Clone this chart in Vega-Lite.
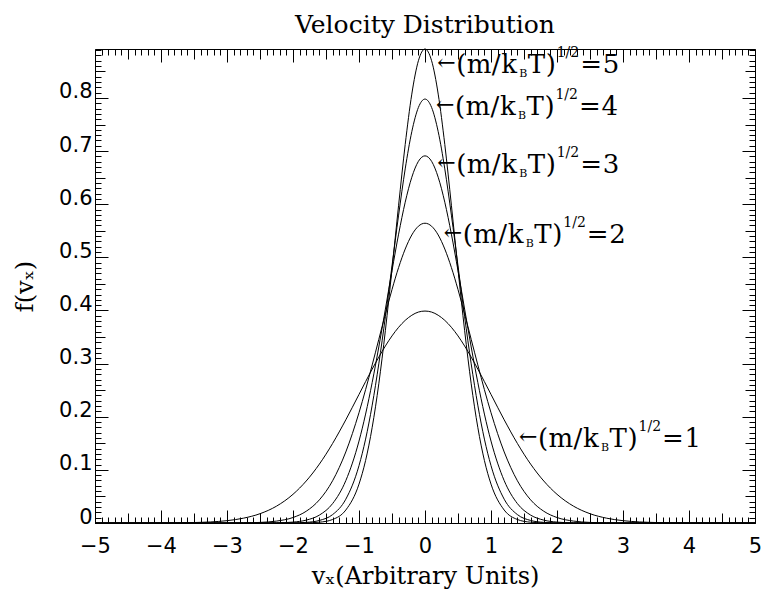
{
  "$schema": "https://vega.github.io/schema/vega-lite/v6.json",
  "width": 660,
  "height": 474,
  "autosize": {"type": "none"},
  "padding": {"left": 95, "top": 49, "right": 7, "bottom": 69},
  "background": "white",
  "config": {
    "view": {"stroke": "black", "strokeWidth": 1},
    "axis": {"domain": false, "grid": false, "tickColor": "black", "tickWidth": 1, "labelColor": "black", "titleColor": "black"}
  },
  "title": {"text": "Velocity Distribution", "font": "DejaVu Serif", "fontSize": 25, "fontWeight": "normal", "anchor": "middle", "baseline": "alphabetic", "offset": 10, "dy": 22, "color": "black"},
  "datasets": {
    "curves": [
      {"v": -5, "a1": 0, "a2": 0, "a3": 0, "a4": 0, "a5": 0},
      {"v": -4.5, "a1": 0, "a2": 0, "a3": 0, "a4": 0, "a5": 0},
      {"v": -4, "a1": 0.0001, "a2": 0, "a3": 0, "a4": 0, "a5": 0},
      {"v": -3.5, "a1": 0.0009, "a2": 0, "a3": 0, "a4": 0, "a5": 0},
      {"v": -3, "a1": 0.0044, "a2": 0.0001, "a3": 0, "a4": 0, "a5": 0},
      {"v": -2.75, "a1": 0.0091, "a2": 0.0003, "a3": 0, "a4": 0, "a5": 0},
      {"v": -2.5, "a1": 0.0175, "a2": 0.0011, "a3": 0.0001, "a4": 0, "a5": 0},
      {"v": -2.25, "a1": 0.0317, "a2": 0.0036, "a3": 0.0003, "a4": 0, "a5": 0},
      {"v": -2, "a1": 0.054, "a2": 0.0103, "a3": 0.0017, "a4": 0.0003, "a5": 0},
      {"v": -1.8, "a1": 0.079, "a2": 0.0221, "a3": 0.0054, "a4": 0.0012, "a5": 0.0003},
      {"v": -1.6, "a1": 0.1109, "a2": 0.0436, "a3": 0.0149, "a4": 0.0048, "a5": 0.0015},
      {"v": -1.4, "a1": 0.1497, "a2": 0.0795, "a3": 0.0365, "a4": 0.0158, "a5": 0.0066},
      {"v": -1.2, "a1": 0.1942, "a2": 0.1337, "a3": 0.0797, "a4": 0.0448, "a5": 0.0244},
      {"v": -1, "a1": 0.242, "a2": 0.2076, "a3": 0.1542, "a4": 0.108, "a5": 0.0732},
      {"v": -0.9, "a1": 0.2661, "a2": 0.251, "a3": 0.205, "a4": 0.1579, "a5": 0.1177},
      {"v": -0.8, "a1": 0.2897, "a2": 0.2975, "a3": 0.2646, "a4": 0.2218, "a5": 0.1801},
      {"v": -0.7, "a1": 0.3122, "a2": 0.3456, "a3": 0.3313, "a4": 0.2995, "a5": 0.262},
      {"v": -0.6, "a1": 0.3332, "a2": 0.3936, "a3": 0.4027, "a4": 0.3884, "a5": 0.3627},
      {"v": -0.5, "a1": 0.3521, "a2": 0.4394, "a3": 0.4749, "a4": 0.4839, "a5": 0.4775},
      {"v": -0.4, "a1": 0.3683, "a2": 0.4808, "a3": 0.5436, "a4": 0.5794, "a5": 0.598},
      {"v": -0.3, "a1": 0.3814, "a2": 0.5156, "a3": 0.6037, "a4": 0.6664, "a5": 0.7123},
      {"v": -0.2, "a1": 0.391, "a2": 0.5421, "a3": 0.6507, "a4": 0.7365, "a5": 0.8072},
      {"v": -0.1, "a1": 0.397, "a2": 0.5586, "a3": 0.6807, "a4": 0.7821, "a5": 0.87},
      {"v": 0, "a1": 0.3989, "a2": 0.5642, "a3": 0.691, "a4": 0.7979, "a5": 0.8921},
      {"v": 0.1, "a1": 0.397, "a2": 0.5586, "a3": 0.6807, "a4": 0.7821, "a5": 0.87},
      {"v": 0.2, "a1": 0.391, "a2": 0.5421, "a3": 0.6507, "a4": 0.7365, "a5": 0.8072},
      {"v": 0.3, "a1": 0.3814, "a2": 0.5156, "a3": 0.6037, "a4": 0.6664, "a5": 0.7123},
      {"v": 0.4, "a1": 0.3683, "a2": 0.4808, "a3": 0.5436, "a4": 0.5794, "a5": 0.598},
      {"v": 0.5, "a1": 0.3521, "a2": 0.4394, "a3": 0.4749, "a4": 0.4839, "a5": 0.4775},
      {"v": 0.6, "a1": 0.3332, "a2": 0.3936, "a3": 0.4027, "a4": 0.3884, "a5": 0.3627},
      {"v": 0.7, "a1": 0.3122, "a2": 0.3456, "a3": 0.3313, "a4": 0.2995, "a5": 0.262},
      {"v": 0.8, "a1": 0.2897, "a2": 0.2975, "a3": 0.2646, "a4": 0.2218, "a5": 0.1801},
      {"v": 0.9, "a1": 0.2661, "a2": 0.251, "a3": 0.205, "a4": 0.1579, "a5": 0.1177},
      {"v": 1, "a1": 0.242, "a2": 0.2076, "a3": 0.1542, "a4": 0.108, "a5": 0.0732},
      {"v": 1.2, "a1": 0.1942, "a2": 0.1337, "a3": 0.0797, "a4": 0.0448, "a5": 0.0244},
      {"v": 1.4, "a1": 0.1497, "a2": 0.0795, "a3": 0.0365, "a4": 0.0158, "a5": 0.0066},
      {"v": 1.6, "a1": 0.1109, "a2": 0.0436, "a3": 0.0149, "a4": 0.0048, "a5": 0.0015},
      {"v": 1.8, "a1": 0.079, "a2": 0.0221, "a3": 0.0054, "a4": 0.0012, "a5": 0.0003},
      {"v": 2, "a1": 0.054, "a2": 0.0103, "a3": 0.0017, "a4": 0.0003, "a5": 0},
      {"v": 2.25, "a1": 0.0317, "a2": 0.0036, "a3": 0.0003, "a4": 0, "a5": 0},
      {"v": 2.5, "a1": 0.0175, "a2": 0.0011, "a3": 0.0001, "a4": 0, "a5": 0},
      {"v": 2.75, "a1": 0.0091, "a2": 0.0003, "a3": 0, "a4": 0, "a5": 0},
      {"v": 3, "a1": 0.0044, "a2": 0.0001, "a3": 0, "a4": 0, "a5": 0},
      {"v": 3.5, "a1": 0.0009, "a2": 0, "a3": 0, "a4": 0, "a5": 0},
      {"v": 4, "a1": 0.0001, "a2": 0, "a3": 0, "a4": 0, "a5": 0},
      {"v": 4.5, "a1": 0, "a2": 0, "a3": 0, "a4": 0, "a5": 0},
      {"v": 5, "a1": 0, "a2": 0, "a3": 0, "a4": 0, "a5": 0}
    ],
    "labels": [
      {"k": "5", "v": 0.2, "f": 0.866},
      {"k": "4", "v": 0.18, "f": 0.787},
      {"k": "3", "v": 0.2, "f": 0.677},
      {"k": "2", "v": 0.3, "f": 0.546},
      {"k": "1", "v": 1.44, "f": 0.162}
    ]
  },
  "resolve": {"axis": {"x": "independent", "y": "independent"}},
  "layer": [
    {
      "data": {"name": "curves"},
      "transform": [{"fold": ["a1", "a2", "a3", "a4", "a5"], "as": ["series", "f"]}],
      "mark": {"type": "line", "interpolate": "monotone", "color": "black", "strokeWidth": 1},
      "encoding": {
        "x": {"field": "v", "type": "quantitative", "scale": {"domain": [-5, 5], "nice": false, "zero": false},
          "axis": {"orient": "bottom", "ticks": false, "tickCount": 10, "format": "d", "labelFont": "DejaVu Sans", "labelFontSize": 21, "labelBaseline": "alphabetic", "labelPadding": 29, "labelFlush": false, "labelOverlap": false,
            "title": "vₓ(Arbitrary Units)", "titleFont": "DejaVu Serif", "titleFontSize": 24, "titleFontWeight": "normal", "titleBaseline": "alphabetic", "titlePadding": 27}},
        "y": {"field": "f", "type": "quantitative", "scale": {"domain": [0, 0.8921], "nice": false},
          "axis": {"orient": "left", "ticks": false, "values": [0, 0.1, 0.2, 0.3, 0.4, 0.5, 0.6, 0.7, 0.8], "labelExpr": "datum.value < 1e-9 ? '0' : format(datum.value, '.1f')", "labelFont": "DejaVu Sans", "labelFontSize": 21, "labelBaseline": "alphabetic", "labelPadding": 3, "labelFlush": false, "labelOverlap": false,
            "title": "f(vₓ)", "titleFont": "DejaVu Serif", "titleFontSize": 24, "titleFontWeight": "normal", "titlePadding": 21}},
        "detail": {"field": "series"}
      }
    },
    {
      "data": {"name": "labels"},
      "mark": {"type": "point", "opacity": 0},
      "encoding": {
        "x": {"field": "v", "type": "quantitative", "scale": {"domain": [-5, 5], "nice": false, "zero": false},
          "axis": {"orient": "bottom", "labels": false, "title": null, "tickCount": 100,
            "tickSize": {"condition": [{"test": "abs(datum.value-round(datum.value))<1e-6", "value": -13}, {"test": "abs(datum.value*2-round(datum.value*2))<1e-6", "value": -10}], "value": -6}}},
        "y": {"field": "f", "type": "quantitative", "scale": {"domain": [0, 0.8921], "nice": false},
          "axis": {"orient": "left", "labels": false, "title": null, "tickCount": 100,
            "tickSize": {"condition": [{"test": "abs(datum.value*10-round(datum.value*10))<1e-6", "value": -13}, {"test": "abs(datum.value*20-round(datum.value*20))<1e-6", "value": -10}], "value": -6}}}
      }
    },
    {
      "data": {"name": "labels"},
      "mark": {"type": "point", "opacity": 0},
      "encoding": {
        "x": {"field": "v", "type": "quantitative", "scale": {"domain": [-5, 5], "nice": false, "zero": false},
          "axis": {"orient": "top", "labels": false, "title": null, "tickCount": 100,
            "tickSize": {"condition": [{"test": "abs(datum.value-round(datum.value))<1e-6", "value": -13}, {"test": "abs(datum.value*2-round(datum.value*2))<1e-6", "value": -10}], "value": -6}}},
        "y": {"field": "f", "type": "quantitative", "scale": {"domain": [0, 0.8921], "nice": false},
          "axis": {"orient": "right", "labels": false, "title": null, "tickCount": 100,
            "tickSize": {"condition": [{"test": "abs(datum.value*10-round(datum.value*10))<1e-6", "value": -13}, {"test": "abs(datum.value*20-round(datum.value*20))<1e-6", "value": -10}], "value": -6}}}
      }
    },
    {
      "data": {"name": "labels"},
      "encoding": {
        "x": {"field": "v", "type": "quantitative", "axis": null},
        "y": {"field": "f", "type": "quantitative", "axis": null}
      },
      "layer": [
        {"mark": {"type": "text", "text": "←", "align": "left", "baseline": "middle", "font": "DejaVu Serif", "fontSize": 22, "color": "black", "dx": -1, "dy": 0}},
        {"mark": {"type": "text", "text": "(", "align": "left", "baseline": "alphabetic", "font": "DejaVu Serif", "fontSize": 26, "color": "black", "dx": 18, "dy": 10}},
        {"mark": {"type": "text", "text": "m", "align": "left", "baseline": "alphabetic", "font": "DejaVu Serif", "fontSize": 26, "color": "black", "dx": 28.5, "dy": 10}},
        {"mark": {"type": "text", "text": "/", "align": "left", "baseline": "alphabetic", "font": "DejaVu Serif", "fontSize": 26, "color": "black", "dx": 53.5, "dy": 10}},
        {"mark": {"type": "text", "text": "k", "align": "left", "baseline": "alphabetic", "font": "DejaVu Serif", "fontSize": 26, "color": "black", "dx": 63, "dy": 10}},
        {"mark": {"type": "text", "text": "B", "align": "left", "baseline": "alphabetic", "font": "DejaVu Serif", "fontSize": 11, "color": "black", "dx": 81, "dy": 14}},
        {"mark": {"type": "text", "text": "T", "align": "left", "baseline": "alphabetic", "font": "DejaVu Serif", "fontSize": 26, "color": "black", "dx": 89.5, "dy": 10}},
        {"mark": {"type": "text", "text": ")", "align": "left", "baseline": "alphabetic", "font": "DejaVu Serif", "fontSize": 26, "color": "black", "dx": 107.5, "dy": 10}},
        {"mark": {"type": "text", "text": "1/2", "align": "left", "baseline": "alphabetic", "font": "DejaVu Serif", "fontSize": 14, "color": "black", "dx": 118.5, "dy": -6}},
        {"mark": {"type": "text", "text": "=", "align": "left", "baseline": "alphabetic", "font": "DejaVu Serif", "fontSize": 26, "color": "black", "dx": 142, "dy": 10}},
        {"mark": {"type": "text", "align": "left", "baseline": "alphabetic", "font": "DejaVu Serif", "fontSize": 26, "color": "black", "dx": 164.5, "dy": 10}, "encoding": {"text": {"field": "k"}}}
      ]
    }
  ]
}
